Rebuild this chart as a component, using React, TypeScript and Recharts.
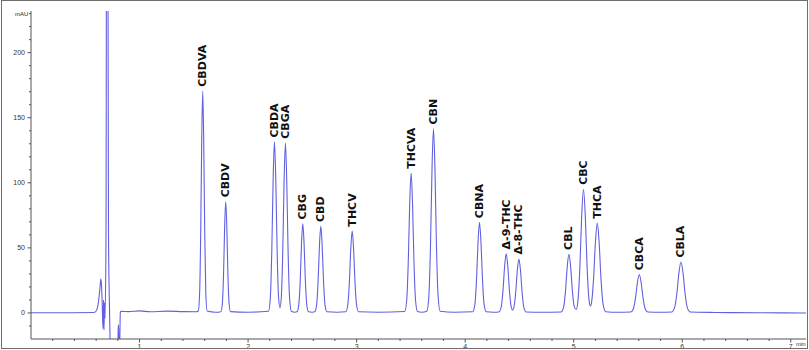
import { ComposedChart, Line, Scatter, XAxis, YAxis } from "recharts";

// peak table (retention time in min, apex in mAU)
const peakNames = [
  "CBDVA", "CBDV", "CBDA", "CBGA", "CBG", "CBD", "THCV", "THCVA", "CBN",
  "CBNA", "Δ-9-THC", "Δ-8-THC", "CBL", "CBC", "THCA", "CBCA", "CBLA",
];
const peakTimes = [
  1.582, 1.794, 2.243, 2.344, 2.504, 2.67, 2.959, 3.502, 3.708,
  4.132, 4.378, 4.495, 4.956, 5.09, 5.217, 5.604, 5.988,
];
const peakHeights = [
  170, 85, 131, 130, 68, 66, 62.5, 107, 141,
  69, 45, 41, 44.6, 94.6, 68.5, 29, 38.7,
];

// detector trace, [time, mAU]
const solventTrace = [
  [0, 0.2], [0.3, 0.2], [0.58, 0.4], [0.6, 1.5], [0.615, 5], [0.628, 13],
  [0.637, 21], [0.643, 26], [0.649, 22], [0.655, 10], [0.6634, -12],
  [0.668, 10], [0.6726, -13], [0.6772, 8], [0.6818, -4], [0.691, 60],
  [0.698, 420], [0.705, 420], [0.714, 60], [0.724, 0], [0.737, -45],
  [0.78, -45], [0.8, -28], [0.804, -9], [0.8075, -12], [0.811, -26],
  [0.8175, -24], [0.8225, 0], [0.828, 1.2], [0.9, 1.0], [1.0, 1.6],
  [1.1, 0.9], [1.25, 1.4], [1.4, 1.0], [1.52, 0.9],
];
const earlyTrace = [
  [1.5407, 1.5], [1.5536, 15.6], [1.5639, 64.3], [1.573, 133.6], [1.582, 170.5],
  [1.591, 133.6], [1.6001, 64.3], [1.6104, 15.6], [1.6233, 1.5], [1.7, 0.6],
  [1.7498, 1.0], [1.7636, 8.1], [1.7747, 32.4], [1.7843, 67.1], [1.794, 85.5],
  [1.8037, 67.1], [1.8133, 32.4], [1.8244, 8.1], [1.8382, 1.0], [2.0, 0.6],
  [2.188, 1.3], [2.2052, 12.1], [2.2189, 49.7], [2.231, 103.1], [2.243, 131.5],
  [2.255, 103.1], [2.2671, 49.7], [2.2808, 12.3], [2.2935, 4.0], [2.3062, 12.3],
  [2.3199, 49.3], [2.332, 102.3], [2.344, 130.5], [2.356, 102.3], [2.3681, 49.3],
  [2.3818, 12.1], [2.399, 1.3], [2.43, 0.6],
  [2.4509, 0.9], [2.4675, 6.6], [2.4808, 26.0], [2.4924, 53.7], [2.504, 68.5],
  [2.5156, 53.7], [2.5272, 26.0], [2.5405, 6.6], [2.5571, 0.9], [2.59, 0.6],
  [2.614, 0.9], [2.6315, 6.4], [2.6455, 25.3], [2.6577, 52.2], [2.67, 66.5],
  [2.6823, 52.2], [2.6945, 25.3], [2.7085, 6.4], [2.726, 0.9], [2.82, 0.6],
  [2.9001, 0.9], [2.9185, 6.1], [2.9332, 23.9], [2.9461, 49.4], [2.959, 63.0],
  [2.9719, 49.4], [2.9848, 23.9], [2.9995, 6.1], [3.0179, 0.9], [3.2, 0.6],
];
const midTrace = [
  [3.4431, 1.1], [3.4615, 10.0], [3.4762, 40.7], [3.4891, 84.3], [3.502, 107.5],
  [3.5149, 84.3], [3.5278, 40.7], [3.5425, 10.0], [3.5609, 1.1], [3.6, 0.6],
  [3.6462, 1.3], [3.6655, 13.0], [3.681, 53.4], [3.6945, 110.9], [3.708, 141.5],
  [3.7215, 110.9], [3.735, 53.4], [3.7505, 13.0], [3.7698, 1.3], [3.9, 0.6],
  [4.0702, 0.9], [4.0895, 6.6], [4.105, 26.4], [4.1185, 54.5], [4.132, 69.5],
  [4.1455, 54.5], [4.159, 26.4], [4.1745, 6.6], [4.1938, 0.9], [4.26, 0.6],
  [4.3108, 0.8], [4.3318, 4.5], [4.3486, 17.4], [4.3633, 35.7], [4.378, 45.5],
  [4.3927, 35.7], [4.4074, 17.4], [4.4242, 4.6], [4.4365, 2.3], [4.4488, 4.3],
  [4.4656, 15.9], [4.4803, 32.6], [4.495, 41.5], [4.5097, 32.6], [4.5244, 15.9],
  [4.5412, 4.1], [4.5622, 0.7], [4.7, 0.5],
];
const lateTrace = [
  [4.884, 0.8], [4.9065, 4.5], [4.9245, 17.2], [4.9402, 35.4], [4.956, 45.1],
  [4.9718, 35.4], [4.9875, 17.2], [5.0055, 4.7], [5.023, 2.7], [5.0383, 9.0],
  [5.0571, 36.0], [5.0735, 74.6], [5.09, 95.1], [5.1065, 74.6], [5.1229, 36.0],
  [5.1417, 9.5], [5.1535, 5.3], [5.1631, 7.4], [5.1827, 26.2], [5.1998, 54.1],
  [5.217, 69.0], [5.2342, 54.1], [5.2513, 26.2], [5.2709, 6.6], [5.2954, 0.9],
  [5.4, 0.5],
  [5.524, 0.7], [5.549, 3.1], [5.569, 11.4], [5.5865, 23.2], [5.604, 29.5],
  [5.6215, 23.2], [5.639, 11.4], [5.659, 3.1], [5.684, 0.7], [5.8, 0.5],
  [5.9016, 0.7], [5.9286, 3.9], [5.9502, 15.0], [5.9691, 30.8], [5.988, 39.2],
  [6.0069, 30.8], [6.0258, 15.0], [6.0474, 3.9], [6.0744, 0.7], [6.3, 0.4],
  [6.7, 0.2], [7.14, 0],
];

const xMajorTicks = [1, 2, 3, 4, 5, 6, 7];
const xAllTicks = [
  0.2, 0.4, 0.6, 0.8, 1, 1.2, 1.4, 1.6, 1.8, 2, 2.2, 2.4, 2.6, 2.8, 3, 3.2,
  3.4, 3.6, 3.8, 4, 4.2, 4.4, 4.6, 4.8, 5, 5.2, 5.4, 5.6, 5.8, 6, 6.2, 6.4,
  6.6, 6.8, 7,
];
const yMajorTicks = [0, 50, 100, 150, 200];
const yAllTicks = [
  -10, 0, 10, 20, 30, 40, 50, 60, 70, 80, 90, 100, 110, 120, 130, 140, 150,
  160, 170, 180, 190, 200, 210, 220, 230,
];

const trace = [...solventTrace, ...earlyTrace, ...midTrace, ...lateTrace].map(
  ([t, v]) => ({ t, v })
);
const peaks = peakNames.map((name, i) => ({
  name,
  t: peakTimes[i],
  h: peakHeights[i],
}));

const axisColor = "#555";
const tickFont = "Liberation Sans";

function XTick(props: any) {
  const { x, y, payload } = props;
  const major = xMajorTicks.includes(payload.value);
  return (
    <g>
      <line x1={x} x2={x} y1={y} y2={y + (major ? 3.5 : 2)} stroke={axisColor} />
      {major && (
        <text x={x} y={y + 9.5} textAnchor="middle" fontSize={7} fill="#333" fontFamily={tickFont}>
          {payload.value}
        </text>
      )}
    </g>
  );
}

function YTick(props: any) {
  const { x, y, payload } = props;
  const major = yMajorTicks.includes(payload.value);
  return (
    <g>
      <line x1={x - (major ? 3.5 : 2)} x2={x} y1={y} y2={y} stroke={axisColor} />
      {major && (
        <text x={x - 6} y={y + 2.5} textAnchor="end" fontSize={7} fill="#333" fontFamily={tickFont}>
          {payload.value}
        </text>
      )}
    </g>
  );
}

function PeakLabel(props: any) {
  const { cx, cy, payload } = props;
  const y = cy - 5;
  return (
    <text
      x={cx}
      y={y}
      transform={`rotate(-90 ${cx} ${y})`}
      textAnchor="start"
      dominantBaseline="central"
      fontFamily="DejaVu Sans"
      fontWeight="bold"
      fontSize={11}
      fill="#111"
    >
      {payload.name}
    </text>
  );
}

export default function App() {
  return (
    <div
      style={{
        position: "absolute",
        top: 0,
        left: 0,
        width: 809,
        height: 350,
        background: "#fff",
      }}
    >
      <ComposedChart
        width={809}
        height={350}
        margin={{ top: 11, right: 3, bottom: 10, left: 30 }}
      >
        <XAxis
          xAxisId="x"
          type="number"
          dataKey="t"
          domain={[0, 7.14]}
          allowDataOverflow
          ticks={xAllTicks}
          interval={0}
          height={1}
          tickSize={0}
          tickMargin={0}
          axisLine={{ stroke: axisColor }}
          tickLine={false}
          tick={<XTick />}
        />
        <YAxis
          yAxisId="y"
          type="number"
          domain={[-20, 232]}
          allowDataOverflow
          ticks={yAllTicks}
          interval={0}
          width={1}
          tickSize={0}
          tickMargin={0}
          axisLine={{ stroke: axisColor }}
          tickLine={false}
          tick={<YTick />}
        />
        <Line
          xAxisId="x"
          yAxisId="y"
          data={trace}
          dataKey="v"
          type="monotone"
          stroke="#6060e0"
          strokeWidth={1.1}
          dot={false}
          activeDot={false}
          isAnimationActive={false}
        />
        <Scatter
          xAxisId="x"
          yAxisId="y"
          data={peaks}
          dataKey="h"
          shape={(p: any) => <PeakLabel {...p} />}
          isAnimationActive={false}
        />
      </ComposedChart>
      <span
        style={{
          position: "absolute",
          left: 15,
          top: 10,
          fontSize: 6,
          lineHeight: "8px",
          fontFamily: tickFont,
          color: "#222",
        }}
      >
        mAU
      </span>
      <span
        style={{
          position: "absolute",
          left: 796,
          top: 340,
          fontSize: 6,
          lineHeight: "8px",
          fontFamily: tickFont,
          color: "#333",
          whiteSpace: "nowrap",
        }}
      >
        min
      </span>
      <div
        style={{
          position: "absolute",
          left: 1,
          top: 0,
          width: 807,
          height: 349,
          boxSizing: "border-box",
          border: "1px solid #6e6e6e",
          pointerEvents: "none",
        }}
      />
    </div>
  );
}
